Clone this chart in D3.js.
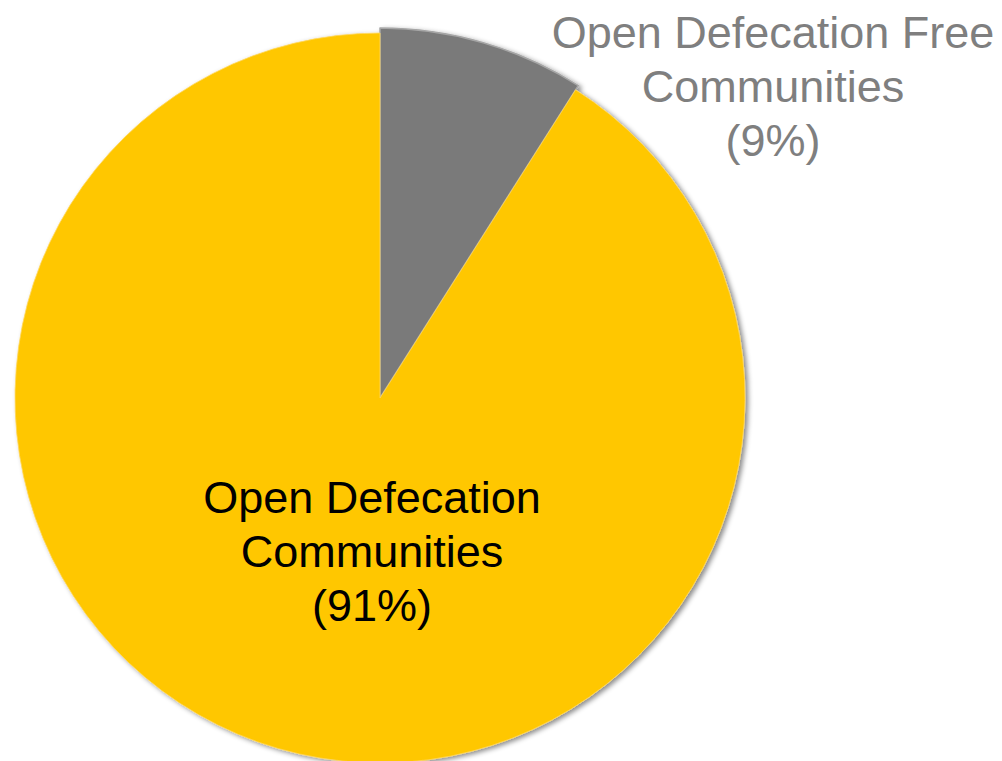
<!DOCTYPE html>
<html>
<head>
<meta charset="utf-8">
<script src="https://cdn.jsdelivr.net/npm/d3@7"></script>
<style>
  html, body { margin: 0; padding: 0; background: #ffffff; }
  svg { display: block; }
</style>
</head>
<body>
<svg id="chart" width="1002" height="761"></svg>
<script>
// Share of communities by sanitation status
const categories = ["Open Defecation Free Communities", "Open Defecation Communities"];
const values = [9, 91];
const labelLines = [
  ["Open Defecation Free", "Communities", "(9%)"],
  ["Open Defecation", "Communities", "(91%)"]
];
const colors = ["#7a7a7a", "#ffc700"];
const labelColors = ["#7f7f7f", "#000000"];

const svg = d3.select("#chart");
const cx = 380, cy = 398, radius = 365;

const defs = svg.append("defs");
const shadow = defs.append("filter")
  .attr("id", "shadow")
  .attr("x", "-10%").attr("y", "-10%")
  .attr("width", "120%").attr("height", "120%");
shadow.append("feDropShadow")
  .attr("dx", 3).attr("dy", 2)
  .attr("stdDeviation", 2.5)
  .attr("flood-color", "#000")
  .attr("flood-opacity", 0.45);

const pie = d3.pie().sort(null).value(d => d.value);
const arcs = pie(categories.map((c, i) => ({ name: c, value: values[i], idx: i })));

// Outer radius per slice: the small slice sits a touch proud of the disc
const outerR = [radius + 5, radius];
const arcGen = d3.arc().innerRadius(0).outerRadius(d => outerR[d.data.idx]);

const g = svg.append("g")
  .attr("transform", `translate(${cx},${cy})`)
  .attr("filter", "url(#shadow)");

g.selectAll("path")
  .data(arcs)
  .join("path")
  .attr("d", arcGen)
  .attr("fill", d => colors[d.data.idx])
  .attr("stroke", d => d.data.idx === 0 ? "#a6a6a6" : "#ffd75e")
  .attr("stroke-width", d => d.data.idx === 0 ? 1.5 : 0.8)
  .attr("stroke-linejoin", "round");

// Labels
const fontSize = 45, lineH = 54;
const labelPos = [
  { x: 773, y: 48 },
  { x: 372, y: 513 }
];

labelLines.forEach((lines, i) => {
  const t = svg.append("text")
    .attr("text-anchor", "middle")
    .attr("font-family", "'Liberation Sans', Arial, sans-serif")
    .attr("font-size", fontSize)
    .attr("fill", labelColors[i]);
  lines.forEach((line, j) => {
    t.append("tspan")
      .attr("x", labelPos[i].x)
      .attr("y", labelPos[i].y + j * lineH)
      .text(line);
  });
});
</script>
</body>
</html>
